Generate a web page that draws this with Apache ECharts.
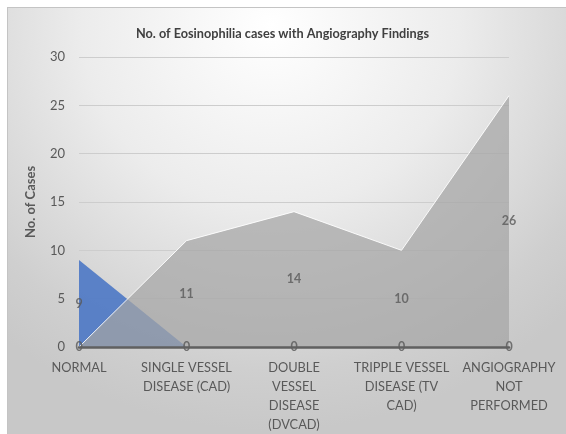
<!DOCTYPE html>
<html>
<head>
<meta charset="utf-8">
<script src="https://cdn.jsdelivr.net/npm/echarts@6/dist/echarts.min.js"></script>
<style>
  html, body { margin: 0; padding: 0; background: #fff; }
  #bg {
    position: absolute; left: 7px; top: 7px; width: 559px; height: 427px;
    border-top: 1px solid #c4c4c4; border-left: 1px solid #c4c4c4;
    background: radial-gradient(ellipse 75% 95% at 47% 4%, #ffffff 0%, #ececec 45%, #cfcfcf 85%, #c8c8c8 100%);
  }
  #chart { position: absolute; left: 0; top: 0; width: 566px; height: 434px; }
</style>
</head>
<body>
<div id="bg"></div>
<div id="chart"></div>
<script>
const categories = [
  "NORMAL",
  "SINGLE VESSEL\nDISEASE (CAD)",
  "DOUBLE\nVESSEL\nDISEASE\n(DVCAD)",
  "TRIPPLE VESSEL\nDISEASE (TV\nCAD)",
  "ANGIOGRAPHY\nNOT\nPERFORMED"
];
const normalCases = [9, 0, 0, 0, 0];
const findingCases = [0, 11, 14, 10, 26];
const yTicks = { min: 0, max: 30, interval: 5 };

const FONT = "Lato, 'Open Sans', sans-serif";

// labels sit half way up the area, like the original
function midLabels(values) {
  return values.map((v, i) => ({ value: [i, v / 2], raw: v }));
}

const labelSeries = (values) => ({
  type: "scatter",
  data: midLabels(values),
  symbolSize: 0,
  silent: true,
  z: 4,
  label: {
    show: true,
    position: "inside",
    formatter: (p) => String(p.data.raw),
    color: "#595959",
    fontSize: 12.5,
    fontWeight: "bold",
    fontFamily: FONT
  }
});

const chart = echarts.init(document.getElementById("chart"));
chart.setOption({
  backgroundColor: "transparent",
  animation: false,
  title: {
    text: "No. of Eosinophilia cases with Angiography Findings",
    left: 131,
    top: 22,
    textStyle: { fontSize: 12.7, fontWeight: "bold", color: "#404040", fontFamily: FONT }
  },
  grid: { left: 79, right: 57, top: 57, bottom: 83 },
  xAxis: {
    type: "category",
    data: categories,
    boundaryGap: false,
    z: 6,
    axisLine: { lineStyle: { color: "#606060", width: 2.5 } },
    axisTick: { show: false },
    axisLabel: {
      interval: 0,
      margin: 11,
      color: "#595959",
      fontSize: 12.8,
      lineHeight: 19,
      fontFamily: FONT
    }
  },
  yAxis: {
    type: "value",
    min: yTicks.min,
    max: yTicks.max,
    interval: yTicks.interval,
    name: "No. of Cases",
    nameLocation: "middle",
    nameRotate: 90,
    nameGap: 42,
    nameTextStyle: { fontSize: 13, fontWeight: "bold", color: "#595959", fontFamily: FONT },
    axisLine: { show: false },
    axisTick: { show: false },
    axisLabel: { margin: 14, color: "#595959", fontSize: 13, fontFamily: FONT },
    splitLine: { lineStyle: { color: "#cdcdcd", width: 1 } }
  },
  series: [
    {
      name: "Normal",
      type: "line",
      data: normalCases,
      symbol: "none",
      lineStyle: { width: 0 },
      areaStyle: { color: "rgba(68,114,196,0.85)", opacity: 1 },
      z: 2
    },
    {
      name: "Findings",
      type: "line",
      data: findingCases,
      symbol: "none",
      lineStyle: { color: "rgba(255,255,255,0.9)", width: 1 },
      areaStyle: { color: "rgba(165,165,165,0.72)", opacity: 1 },
      z: 3
    },
    labelSeries(normalCases),
    labelSeries(findingCases)
  ]
});
</script>
</body>
</html>
